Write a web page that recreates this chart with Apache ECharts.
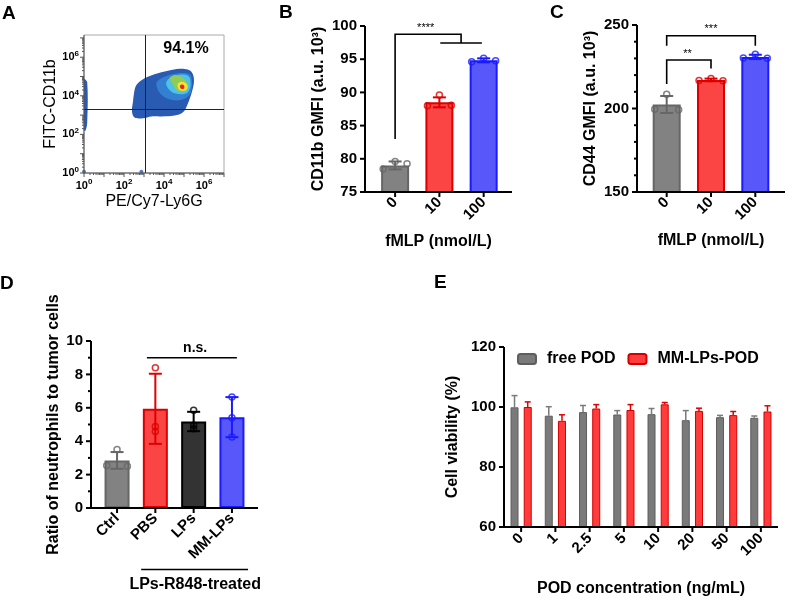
<!DOCTYPE html>
<html>
<head>
<meta charset="utf-8">
<script src="https://cdn.jsdelivr.net/npm/echarts@6/dist/echarts.min.js"></script>
<style>
  html, body { margin: 0; padding: 0; background: #fff; }
  #chart { width: 788px; height: 599px; }
</style>
</head>
<body>
<div id="chart"></div>
<script>
// ---- A: flow cytometry density, log10 units [Ly6G, CD11b]
const flowOuter = [[2.5, 4.13], [2.62, 4.56], [3.03, 4.91], [3.7, 5.17], [4.37, 5.34], [5.03, 5.39], [5.37, 5.25], [5.5, 4.82], [5.4, 4.22], [5.2, 3.62], [4.95, 3.15], [4.53, 2.98], [3.87, 2.93], [3.37, 2.93], [2.95, 2.84], [2.53, 2.87], [2.4, 3.18], [2.45, 3.7]]
const flowMid = [[3.62, 4.65], [4.03, 4.99], [4.7, 5.17], [5.28, 5.11], [5.4, 4.65], [5.28, 4.05], [4.87, 3.79], [4.37, 3.79], [3.87, 4.05]]
const flowCyan = [[4.12, 4.73], [4.53, 5.04], [5.2, 5.04], [5.33, 4.56], [5.12, 4.13], [4.53, 4.13], [4.2, 4.39]]
const flowGreen = [[4.28, 4.91], [4.53, 5.08], [4.87, 4.99], [5.12, 4.73], [5.2, 4.39], [4.95, 4.22], [4.62, 4.3], [4.45, 4.6]]
const flowYellow = [[4.7, 4.65], [4.95, 4.73], [5.17, 4.56], [5.12, 4.3], [4.83, 4.27], [4.7, 4.42]]
const flowRed = [[4.8, 4.52], [4.93, 4.58], [5.02, 4.48], [4.98, 4.36], [4.84, 4.38]]
const flowStrip = [[0, 4.85], [0.16, 4.7], [0.16, 2.6], [0.08, 2.2], [0, 2.2]]
const flowStray = [[0, 0.06], [2.87, 0.06]]
const gateX = 3.08
const gateY = 3.31
const gatePct = '94.1%'
const flowDecades = [0, 1, 2, 3, 4, 5, 6, 7]

// ---- B / C: fMLP stimulation
const fmlpCats = ['0', '10', '100']
const cd11bMean = [79.0, 88.5, 94.83]
const cd11bSD = [0.6, 0.75, 0.3]
const cd11bPts = [[78.45, 79.6, 79.25], [88.0, 89.6, 88.05], [94.6, 95.15, 94.75]]
const cd11bTicks = [75, 80, 85, 90, 95, 100]
const cd44Mean = [202.4, 217.1, 230.9]
const cd44SD = [5.1, 0.8, 1.3]
const cd44Pts = [[199.5, 208.5, 199.2], [216.7, 218, 216.6], [230.2, 232.5, 230.1]]
const cd44Ticks = [150, 200, 250]
const cd44Minor = [160, 170, 180, 190, 210, 220, 230, 240]

// ---- D: neutrophil / tumor ratio
const ratioCats = ['Ctrl', 'PBS', 'LPs', 'MM-LPs']
const ratioMean = [2.85, 5.94, 5.18, 5.44]
const ratioSD = [0.5, 2.1, 0.58, 1.2]
const ratioPts = [[2.55, 3.5, 2.5], [8.4, 4.88, 4.58], [5.85, 4.95, 4.75], [6.65, 5.4, 4.25]]
const ratioTicks = [0, 2, 4, 6, 8, 10]
const ratioMinor = [1, 3, 5, 7, 9]

// ---- E: cell viability
const podCats = ['0', '1', '2.5', '5', '10', '20', '50', '100']
const freeMean = [99.9, 97.1, 98.3, 97.5, 97.6, 95.6, 96.6, 96.4]
const freeSD = [3.9, 3.0, 2.2, 1.3, 1.9, 3.2, 0.6, 0.6]
const mmMean = [100.0, 95.4, 99.5, 99.0, 100.9, 98.7, 97.3, 98.5]
const mmSD = [1.7, 2.0, 1.3, 1.8, 0.6, 0.9, 1.2, 1.9]
const viabTicks = [60, 80, 100, 120]

// significance marks, in data units of each panel
const sigBLines = [[[0, 83], [0, 98.75], [1.49, 98.75], [1.49, 97.45]], [[1.02, 97.45], [1.96, 97.45]]]
const sigBText = [['****', 0.69, 98.75]]
const sigCLines = [[[0, 237.6], [0, 243.6], [2, 243.6], [2, 237.6]], [[0, 214.6], [0, 229], [1, 229], [1, 224]]]
const sigCText = [['***', 1, 243.6], ['**', 0.47, 229]]
const sigDLines = [[[0.78, 9.0], [3.13, 9.0]], [[0.63, -3.68], [3.42, -3.68]]]
const sigDText = [['n.s.', 2.04, 9.0], ['LPs-R848-treated', 2.04, -3.68]]

const FONT = 'Liberation Sans'
const fills3 = ['#828282', '#fb4444', '#5858fa']
const lines3 = ['#666666', '#dd0000', '#1a1aff']
const fills4 = ['#828282', '#fb4444', '#333333', '#5858fa']
const lines4 = ['#666666', '#dd0000', '#000000', '#1a1aff']

const chart = echarts.init(document.getElementById('chart'))

function blackAxis(extra) {
  return Object.assign({
    axisLine: { show: false },
    axisTick: { show: false },
    splitLine: { show: false },
    axisLabel: { color: '#000', fontSize: 15, fontWeight: 'bold', fontFamily: FONT },
    nameLocation: 'middle',
    nameTextStyle: { color: '#000', fontSize: 16, fontWeight: 'bold', fontFamily: FONT }
  }, extra)
}

function catValueAxis(gridIndex, cats, min, max, name, gap) {
  const idx = cats.map((c, i) => i)
  return blackAxis({
    type: 'value', gridIndex, min, max, name, nameGap: gap,
    axisLabel: {
      customValues: idx, rotate: 45, margin: 8, formatter: v => cats[v],
      color: '#000', fontSize: 15, fontWeight: 'bold', fontFamily: FONT
    }
  })
}

// axis lines and ticks, drawn at the grid edges
function axisSeries(ai, xTicks, yTicks, xMinor, yMinor, st) {
  return {
    type: 'custom', xAxisIndex: ai, yAxisIndex: ai, clip: false, silent: true, z: 6,
    data: [[0]],
    renderItem(params, api) {
      const cs = params.coordSys
      const L = cs.x
      const T = cs.y
      const R = cs.x + cs.width
      const B = cs.y + cs.height
      const ls = { stroke: st.color, lineWidth: st.width }
      const kids = [
        { type: 'polyline', shape: { points: [[L, T], [L, B], [R, B]] }, style: { stroke: st.color, lineWidth: st.width, fill: null, lineJoin: 'miter' } }
      ]
      xTicks.forEach(v => {
        const x = api.coord([v, yTicks[0]])[0]
        kids.push({ type: 'line', shape: { x1: x, y1: B, x2: x, y2: B + st.major }, style: ls })
      })
      xMinor.forEach(v => {
        const x = api.coord([v, yTicks[0]])[0]
        kids.push({ type: 'line', shape: { x1: x, y1: B, x2: x, y2: B + st.minor }, style: ls })
      })
      yTicks.forEach(v => {
        const y = api.coord([xTicks[0], v])[1]
        kids.push({ type: 'line', shape: { x1: L - st.major, y1: y, x2: L, y2: y }, style: ls })
      })
      yMinor.forEach(v => {
        const y = api.coord([xTicks[0], v])[1]
        kids.push({ type: 'line', shape: { x1: L - st.minor, y1: y, x2: L, y2: y }, style: ls })
      })
      return { type: 'group', children: kids }
    }
  }
}

// place overlapping replicate points side by side, like the original plot
function spread(groups, tol) {
  const out = []
  groups.forEach((vals, i) => {
    const lab = vals.map((v, j) => j)
    for (let r = 0; r < vals.length; r++) {
      for (let j = 0; j < vals.length; j++) {
        for (let k = 0; k < vals.length; k++) {
          if (Math.abs(vals[j] - vals[k]) < tol) {
            const m = Math.min(lab[j], lab[k])
            lab[j] = m
            lab[k] = m
          }
        }
      }
    }
    vals.forEach((v, j) => {
      const members = vals.map((w, k) => k).filter(k => lab[k] === lab[j])
      const n = members.length
      const pos = members.indexOf(j)
      const off = n > 1 ? -0.27 + pos * 0.54 / (n - 1) : 0
      out.push({ value: [i + off, v], group: i })
    })
  })
  return out
}

function barSeries(ai, means, fills, strokes, width) {
  return {
    type: 'bar', xAxisIndex: ai, yAxisIndex: ai, barWidth: width, z: 2,
    data: means.map((m, i) => ({
      value: [i, m],
      itemStyle: { color: fills[i], borderColor: strokes[i], borderWidth: 2 }
    }))
  }
}

function errSeries(ai, means, sds, colors, opts) {
  const o = Object.assign({ offset: 0, cap: 6.5, lower: true, width: 2 }, opts)
  return {
    type: 'custom', xAxisIndex: ai, yAxisIndex: ai, z: 3, silent: true,
    data: means.map((m, i) => [i, m, sds[i]]),
    renderItem(params, api) {
      const x = api.value(0)
      const m = api.value(1)
      const s = api.value(2)
      const top = api.coord([x, m + s])
      const mid = api.coord([x, m])
      const bot = api.coord([x, m - s])
      const cx = top[0] + o.offset
      const c = Array.isArray(colors) ? colors[params.dataIndex] : colors
      const st = { stroke: c, lineWidth: o.width }
      const kids = [
        { type: 'line', shape: { x1: cx, y1: o.lower ? bot[1] : mid[1], x2: cx, y2: top[1] }, style: st },
        { type: 'line', shape: { x1: cx - o.cap, y1: top[1], x2: cx + o.cap, y2: top[1] }, style: st }
      ]
      if (o.lower) {
        kids.push({ type: 'line', shape: { x1: cx - o.cap, y1: bot[1], x2: cx + o.cap, y2: bot[1] }, style: st })
      }
      return { type: 'group', children: kids }
    }
  }
}

function pointSeries(ai, groups, tol, strokes) {
  return {
    type: 'scatter', xAxisIndex: ai, yAxisIndex: ai, z: 4, symbol: 'circle', symbolSize: 6,
    data: spread(groups, tol).map(d => ({
      value: d.value,
      itemStyle: { color: 'rgba(0,0,0,0)', borderColor: strokes[d.group], borderWidth: 1.5 }
    }))
  }
}

function annoSeries(ai, lines, texts, fonts) {
  return {
    type: 'custom', xAxisIndex: ai, yAxisIndex: ai, z: 5, silent: true, clip: false,
    data: lines.map((l, i) => [i]).concat(texts.map((t, i) => [lines.length + i])),
    renderItem(params, api) {
      const i = params.dataIndex
      if (i < lines.length) {
        return {
          type: 'polyline',
          shape: { points: lines[i].map(p => api.coord(p)) },
          style: { stroke: '#000', lineWidth: 1.6, fill: null }
        }
      }
      const t = texts[i - lines.length]
      const p = api.coord([t[1], t[2]])
      const f = fonts[i - lines.length]
      return {
        type: 'text', x: p[0], y: p[1] + f.dy,
        style: { text: t[0], font: f.font, fill: '#000', align: 'center', verticalAlign: f.va }
      }
    }
  }
}

const flowShapes = [flowOuter, flowStrip, flowMid, flowCyan, flowGreen, flowYellow, flowRed]
const flowFills = ['#2a5bb3', '#2a5bb3', '#3380d2', '#4cc3e6', '#8fcb55', '#f2e23a', '#e8261c']
// log-scale minor tick positions (2..9 within each decade)
const flowMinor = []
flowDecades.slice(0, -1).forEach(d => {
  for (let k = 2; k < 10; k++) flowMinor.push(d + Math.log10(k))
})

const supLabel = v => (Number.isInteger(v) && v % 2 === 0) ? '{b|10}{s|' + v + '}' : ''
const supRich = {
  b: { fontSize: 11, fontWeight: 'bold', fontFamily: FONT, color: '#000' },
  s: { fontSize: 8, fontWeight: 'bold', fontFamily: FONT, color: '#000', padding: [0, 0, 7, 0] }
}
function thinAxis(extra) {
  return Object.assign({
    axisLine: { show: false },
    axisTick: { show: false },
    splitLine: { show: false },
    nameLocation: 'middle',
    nameTextStyle: { color: '#000', fontSize: 16, fontFamily: FONT },
    axisLabel: { formatter: supLabel, rich: supRich, margin: 5 }
  }, extra)
}

const blackStyle = { color: '#000', width: 2, major: 5, minor: 3 }

chart.setOption({
  backgroundColor: '#ffffff',
  animation: false,
  textStyle: { fontFamily: FONT },
  grid: [
    { left: 84, top: 35, width: 140, height: 138, show: true, borderColor: '#aaa', borderWidth: 1 },
    { left: 365, top: 26, width: 147, height: 166 },
    { left: 637, top: 25, width: 148, height: 167 },
    { left: 91, top: 341, width: 167, height: 167 },
    { left: 504, top: 347, width: 274, height: 180 }
  ],
  legend: {
    data: ['free POD', 'MM-LPs-POD'], left: 512, top: 346, itemWidth: 18, itemHeight: 10, itemGap: 12,
    textStyle: { fontSize: 16, fontWeight: 'bold', fontFamily: FONT, color: '#000', padding: [0, 0, 0, 6] }
  },
  xAxis: [
    thinAxis({ type: 'value', gridIndex: 0, min: 0, max: 7, interval: 1, name: 'PE/Cy7-Ly6G', nameGap: 21 }),
    catValueAxis(1, fmlpCats, -0.68, 2.64, 'fMLP (nmol/L)', 42),
    catValueAxis(2, fmlpCats, -0.67, 2.67, 'fMLP (nmol/L)', 41),
    catValueAxis(3, ratioCats, -0.68, 3.68, '', 30),
    blackAxis({
      type: 'category', gridIndex: 4, data: podCats, name: 'POD concentration (ng/mL)', nameGap: 54,
      axisLabel: { interval: 0, rotate: 45, margin: 9, color: '#000', fontSize: 15, fontWeight: 'bold', fontFamily: FONT }
    })
  ],
  yAxis: [
    thinAxis({ type: 'value', gridIndex: 0, min: 0, max: 7.15, interval: 1, name: 'FITC-CD11b', nameGap: 24 }),
    blackAxis({ type: 'value', gridIndex: 1, min: 75, max: 100, interval: 5, name: 'CD11b GMFI (a.u. 10³)', nameGap: 38 }),
    blackAxis({ type: 'value', gridIndex: 2, min: 150, max: 250, interval: 50, name: 'CD44 GMFI (a.u. 10³)', nameGap: 38 }),
    blackAxis({ type: 'value', gridIndex: 3, min: 0, max: 10, interval: 2, name: 'Ratio of neutrophils to tumor cells', nameGap: 29 }),
    blackAxis({ type: 'value', gridIndex: 4, min: 60, max: 120, interval: 20, name: 'Cell viability (%)', nameGap: 43 })
  ],
  graphic: [
    { type: 'text', left: 2, top: 4, style: { text: 'A', font: 'bold 19px ' + FONT, fill: '#000' } },
    { type: 'text', left: 279, top: 3, style: { text: 'B', font: 'bold 19px ' + FONT, fill: '#000' } },
    { type: 'text', left: 550, top: 3, style: { text: 'C', font: 'bold 19px ' + FONT, fill: '#000' } },
    { type: 'text', left: 0, top: 274, style: { text: 'D', font: 'bold 19px ' + FONT, fill: '#000' } },
    { type: 'text', left: 434, top: 273, style: { text: 'E', font: 'bold 19px ' + FONT, fill: '#000' } }
  ],
  series: [
    // A
    {
      type: 'custom', xAxisIndex: 0, yAxisIndex: 0, clip: true, silent: true, z: 2,
      data: flowShapes.map((s, i) => [i]),
      renderItem(params, api) {
        return {
          type: 'polygon',
          shape: { points: flowShapes[params.dataIndex].map(p => api.coord(p)), smooth: 0.35 },
          style: { fill: flowFills[params.dataIndex] }
        }
      },
      markLine: {
        silent: true, symbol: ['none', 'none'], label: { show: false },
        lineStyle: { color: '#222', width: 1, type: 'solid' },
        data: [{ xAxis: gateX }, { yAxis: gateY }]
      }
    },
    {
      type: 'scatter', xAxisIndex: 0, yAxisIndex: 0, symbolSize: 4, z: 3,
      itemStyle: { color: '#2a5bb3' }, data: flowStray
    },
    {
      type: 'custom', xAxisIndex: 0, yAxisIndex: 0, silent: true, z: 5,
      data: [[5.1, 6.42]],
      renderItem(params, api) {
        const p = api.coord([api.value(0), api.value(1)])
        return { type: 'text', x: p[0], y: p[1], style: { text: gatePct, font: 'bold 16px ' + FONT, fill: '#000', align: 'center', verticalAlign: 'middle' } }
      }
    },
    axisSeries(0, flowDecades, flowDecades, flowMinor, flowMinor, { color: '#555', width: 1, major: 4, minor: 2 }),
    // B
    barSeries(1, cd11bMean, fills3, lines3, 28),
    errSeries(1, cd11bMean, cd11bSD, lines3, {}),
    pointSeries(1, cd11bPts, 0.9, lines3),
    annoSeries(1, sigBLines, sigBText, [{ font: '11px ' + FONT, va: 'bottom', dy: -1 }]),
    axisSeries(1, fmlpCats.map((c, i) => i), cd11bTicks, [], [], blackStyle),
    // C
    barSeries(2, cd44Mean, fills3, lines3, 28),
    errSeries(2, cd44Mean, cd44SD, lines3, {}),
    pointSeries(2, cd44Pts, 3.6, lines3),
    annoSeries(2, sigCLines, sigCText, [{ font: '11px ' + FONT, va: 'bottom', dy: -1 }, { font: '11px ' + FONT, va: 'bottom', dy: -1 }]),
    axisSeries(2, fmlpCats.map((c, i) => i), cd44Ticks, [], cd44Minor, blackStyle),
    // D
    barSeries(3, ratioMean, fills4, lines4, 25),
    errSeries(3, ratioMean, ratioSD, lines4, {}),
    pointSeries(3, ratioPts, 0.2, lines4),
    annoSeries(3, sigDLines, sigDText, [{ font: 'bold 14px ' + FONT, va: 'bottom', dy: -3 }, { font: 'bold 16px ' + FONT, va: 'top', dy: 7 }]),
    axisSeries(3, ratioCats.map((c, i) => i), ratioTicks, [], ratioMinor, blackStyle),
    // E
    {
      name: 'free POD', type: 'bar', xAxisIndex: 4, yAxisIndex: 4, barWidth: 8, barGap: '65%', z: 2,
      itemStyle: { color: '#7a7a7a', borderColor: '#5e5e5e', borderWidth: 1 },
      data: freeMean
    },
    {
      name: 'MM-LPs-POD', type: 'bar', xAxisIndex: 4, yAxisIndex: 4, barWidth: 8, barGap: '65%', z: 2,
      itemStyle: { color: '#ff3c3c', borderColor: '#d40000', borderWidth: 1 },
      data: mmMean
    },
    errSeries(4, freeMean, freeSD, '#7a7a7a', { offset: -6.6, cap: 3, lower: false, width: 1.5 }),
    errSeries(4, mmMean, mmSD, '#e00000', { offset: 6.6, cap: 3, lower: false, width: 1.5 }),
    axisSeries(4, podCats.map((c, i) => i), viabTicks, [], [], blackStyle)
  ]
})
</script>
</body>
</html>
